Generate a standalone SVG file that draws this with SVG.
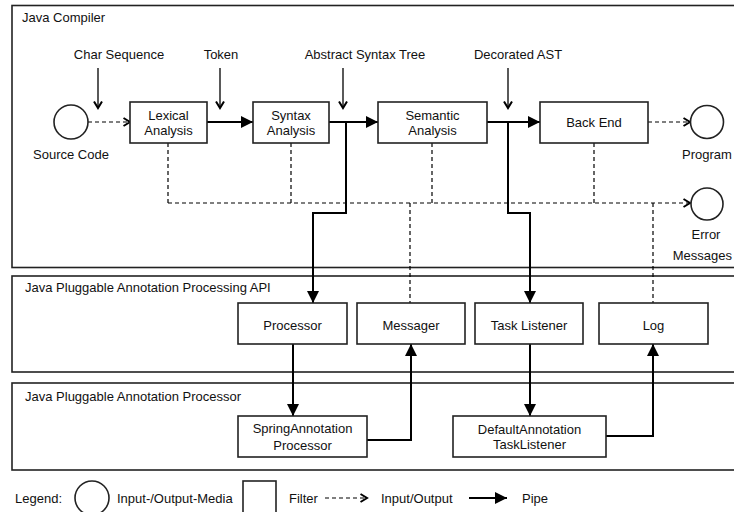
<svg xmlns="http://www.w3.org/2000/svg" width="734" height="512" viewBox="0 0 734 512">
<defs>
<marker id="pipe" markerUnits="userSpaceOnUse" markerWidth="14" markerHeight="14" refX="12" refY="6" orient="auto"><path d="M0,0 L12,6 L0,12 z" fill="#000"/></marker>
<marker id="open" markerUnits="userSpaceOnUse" markerWidth="12" markerHeight="12" refX="7.5" refY="5" orient="auto"><path d="M1,1 L7.5,5 L1,9" fill="none" stroke="#000" stroke-width="2"/></marker>
</defs>
<style>
text{font-family:"Liberation Sans",Arial,sans-serif;font-size:13px;fill:#111}
.c{text-anchor:middle}
.frame{fill:none;stroke:#222;stroke-width:1.6}
.box{fill:#fff;stroke:#222;stroke-width:1.6}
.media{fill:#fff;stroke:#222;stroke-width:1.6}
.pipe{fill:none;stroke:#000;stroke-width:2;marker-end:url(#pipe)}
.io{fill:none;stroke:#000;stroke-width:1.2;stroke-dasharray:4,3}
.ioa{marker-end:url(#open)}
.lab{fill:none;stroke:#000;stroke-width:1.3;marker-end:url(#open)}
</style>
<g id="frames">
<rect class="frame" x="12" y="5.5" width="730" height="262"/>
<text x="22" y="22">Java Compiler</text>
<rect class="frame" x="12" y="276" width="730" height="96"/>
<text x="25" y="292">Java Pluggable Annotation Processing API</text>
<rect class="frame" x="12" y="383" width="730" height="87"/>
<text x="25" y="401">Java Pluggable Annotation Processor</text>
</g>
<g id="connectors">
<path class="io" d="M168,143 V203 M291,143 V203 M432,143 V203 M594,143 V203 M410,203 V303 M653,203 V303"/>
<path class="io ioa" d="M168,203 H690"/>
<path class="io ioa" d="M88,122 H130"/>
<path class="io ioa" d="M648,122 H690"/>
<path class="pipe" d="M207,122 H253"/>
<path class="pipe" d="M329,122 H378"/>
<path class="pipe" d="M487,122 H540"/>
<path class="pipe" d="M346,122 V213 H313 V303"/>
<path class="pipe" d="M508,122 V213 H530 V303"/>
<path class="pipe" d="M293,344 V416"/>
<path class="pipe" d="M367,440 H411 V344"/>
<path class="pipe" d="M530,344 V416"/>
<path class="pipe" d="M606,436 H653 V344"/>
<path class="lab" d="M98,68 V108"/>
<path class="lab" d="M220,68 V108"/>
<path class="lab" d="M343,68 V108"/>
<path class="lab" d="M508,68 V108"/>
<text class="c" x="119" y="59">Char Sequence</text>
<text class="c" x="221" y="59">Token</text>
<text class="c" x="365" y="59">Abstract Syntax Tree</text>
<text class="c" x="518" y="59">Decorated AST</text>
</g>
<g id="source-code">
<circle class="media" cx="71" cy="122" r="17"/>
<text class="c" x="71" y="159">Source Code</text>
</g>
<g id="lexical-analysis">
<rect class="box" x="130" y="102" width="77" height="41"/>
<text class="c" x="168.5" y="120">Lexical</text>
<text class="c" x="168.5" y="135">Analysis</text>
</g>
<g id="syntax-analysis">
<rect class="box" x="253" y="102" width="76" height="41"/>
<text class="c" x="291" y="120">Syntax</text>
<text class="c" x="291" y="135">Analysis</text>
</g>
<g id="semantic-analysis">
<rect class="box" x="378" y="102" width="109" height="41"/>
<text class="c" x="432.5" y="120">Semantic</text>
<text class="c" x="432.5" y="135">Analysis</text>
</g>
<g id="back-end">
<rect class="box" x="540" y="102" width="108" height="41"/>
<text class="c" x="594" y="127">Back End</text>
</g>
<g id="program">
<circle class="media" cx="707" cy="122" r="16.5"/>
<text class="c" x="707" y="159">Program</text>
</g>
<g id="error-messages">
<circle class="media" cx="707" cy="204" r="16"/>
<text class="c" x="706" y="239">Error</text>
<text x="732" y="260" text-anchor="end">Messages</text>
</g>
<g id="processor">
<rect class="box" x="238" y="303" width="109" height="41"/>
<text class="c" x="292.5" y="330">Processor</text>
</g>
<g id="messager">
<rect class="box" x="357" y="303" width="108" height="41"/>
<text class="c" x="411" y="330">Messager</text>
</g>
<g id="task-listener">
<rect class="box" x="475" y="303" width="108" height="41"/>
<text class="c" x="529" y="330">Task Listener</text>
</g>
<g id="log">
<rect class="box" x="599" y="303" width="109" height="41"/>
<text class="c" x="653.5" y="330">Log</text>
</g>
<g id="spring-annotation-processor">
<rect class="box" x="238" y="416" width="129" height="41"/>
<text class="c" x="302.5" y="433">SpringAnnotation</text>
<text class="c" x="302.5" y="450">Processor</text>
</g>
<g id="default-annotation-task-listener">
<rect class="box" x="453" y="416" width="153" height="41"/>
<text class="c" x="529.5" y="434">DefaultAnnotation</text>
<text class="c" x="529.5" y="449">TaskListener</text>
</g>
<g id="legend">
<text x="15" y="503">Legend:</text>
<circle class="media" cx="92" cy="498" r="17"/>
<text x="117" y="503">Input-/Output-Media</text>
<rect class="box" x="243" y="481" width="33" height="40"/>
<text x="289" y="503">Filter</text>
<path class="io ioa" d="M325,498 H367"/>
<text x="381" y="503">Input/Output</text>
<path class="pipe" d="M469,498 H507"/>
<text x="522" y="503">Pipe</text>
</g>
</svg>
